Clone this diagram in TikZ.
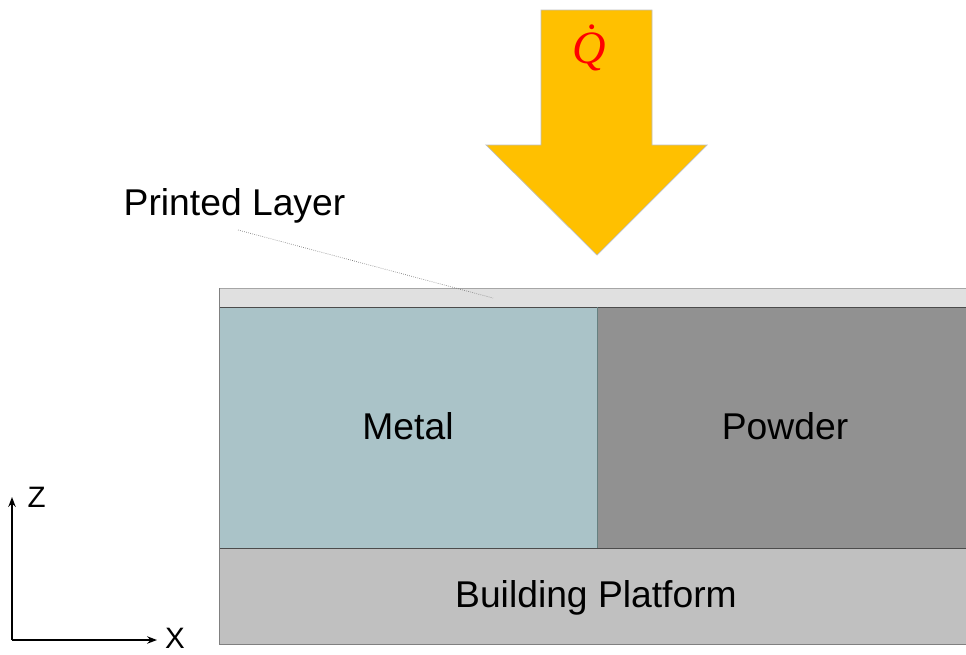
\documentclass[tikz,border=0pt]{standalone}
\usepackage{fontspec}
\setmainfont{Liberation Sans}
\newfontfamily\heatfont{Liberation Serif}
\usetikzlibrary{arrows.meta,positioning}
\definecolor{heatcol}{HTML}{FFC000}
\definecolor{metalcol}{HTML}{AAC3C8}
\definecolor{powdercol}{HTML}{919191}
\definecolor{platecol}{HTML}{C0C0C0}
\definecolor{layercol}{HTML}{E0E0E0}
\tikzset{>={Stealth[length=7pt]}}
\tikzset{
    label/.style={font=\fontsize{26.5}{30}\selectfont,inner sep=0pt},
    axislabel/.style={font=\fontsize{21}{25}\selectfont,inner sep=0pt},
    heatlabel/.style={font=\heatfont\itshape\fontsize{33}{36}\selectfont,text=red,inner sep=0pt},
    slab/.style={draw=black!70,line width=0.6pt},
    axis/.style={->,line width=1.4pt},
    leader/.style={draw=gray,densely dotted,line width=0.5pt},
}

\begin{document}
\begin{tikzpicture}[x=0.025cm,y=-0.025cm]
		\useasboundingbox (0,0) rectangle (966,654);

		% layers
		\fill[layercol] (219,288) rectangle (966,307);
		\draw[gray!70,line width=0.6pt] (219,307) -- (219,288) -- (966,288);
		\fill[metalcol] (219,307) rectangle (597,548);
		\fill[powdercol] (597,307) rectangle (966,548);
		\fill[platecol] (219,548) rectangle (966,644);
		\draw[slab] (219,307) -- (966,307);
		\draw[slab] (219,548) -- (966,548);
		\draw[gray!80!teal,line width=0.6pt] (597,307) -- (597,548);
		\draw[gray,line width=0.6pt] (219,288) -- (219,644) -- (966,644);

		\node[label] (metal) at (408,426) {Metal};
		\node[label] (powder) at (785,426) {Powder};
		\node[label] (platform) at (596,598) {Building Platform};

		% heat flux
		\draw[fill=heatcol,draw=gray!50,line width=0.5pt]
			(541,10) -- (652,10) -- (652,145) -- (707,145) -- (597,255)
			-- (486,145) -- (541,145) -- cycle;
		\node[heatlabel] (qdot) at (589,48) {\.{Q}};

		% printed layer
		\node[label] (printed) at (234.5,206) {Printed Layer};
		\coordinate (layerpt) at (493,298);
		\draw[leader] (238,230) -- (layerpt);

		% axes
		\coordinate (origin) at (12,640);
		\coordinate (zend) at (12,497);
		\coordinate (xend) at (157,640);
		\draw[axis] (origin) -- (zend);
		\draw[axis] (origin) -- (xend);
		\node[axislabel,right=11pt of zend] (zlab) {Z};
		\node[axislabel,right=5.5pt of xend,yshift=1.5pt] (xlab) {X};
	\end{tikzpicture}
\end{document}
